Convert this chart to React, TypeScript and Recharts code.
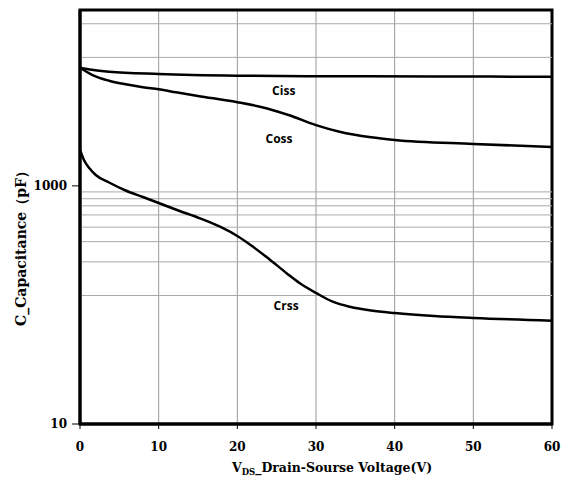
import React from 'react';
import {
  LineChart, Line, XAxis, YAxis, CartesianGrid, ReferenceLine, ReferenceArea, ReferenceDot, Label,
} from 'recharts';

// ── data (V_DS in volts, capacitance in pF) ─────────────────────────────────
const xTicks = [0, 10, 20, 30, 40, 50, 60];
const yTicks = [10, 1000];
// horizontal grid lines as drawn in the datasheet plot
const gridValues = [23000, 12000, 890, 780, 680, 570, 450, 340, 230, 120];

const cissPts: [number, number][] = [
  [0, 9820], [1.5, 9450], [3.7, 9100], [10, 8700], [20, 8420], [30, 8340], [45, 8290], [60, 8260],
];
const cossPts: [number, number][] = [
  [0, 9820], [1.6, 8530], [3.7, 7640], [5.8, 7130], [8, 6730], [10, 6470], [12.2, 6110],
  [15, 5690], [20, 5040], [23, 4600], [26.5, 3940], [30, 3240], [33, 2850], [37, 2560],
  [40, 2430], [50, 2250], [60, 2120],
];
const crssPts: [number, number][] = [
  [0, 2000], [0.5, 1650], [1.2, 1405], [2, 1234], [3.7, 1067], [5.8, 914], [8, 806], [10, 718],
  [12.5, 621], [15.25, 534], [17.8, 454], [20.1, 376], [22, 308], [24.1, 241], [26.3, 184],
  [27.95, 152], [30.1, 125], [32.2, 106], [34.3, 96.6], [37, 89.8], [40, 85.5], [45, 80.7],
  [50, 77.7], [60, 73.8],
];
const curveLabels: { name: string; v: number; c: number }[] = [
  { name: 'Ciss', v: 25.9, c: 6300 },
  { name: 'Coss', v: 25.3, c: 2480 },
  { name: 'Crss', v: 26.2, c: 98 },
];

const Y_DOMAIN: [number, number] = [10, 30000];
const SERIF = '"DejaVu Serif", serif';
const TICK = { fill: '#000', fontSize: 12, fontWeight: 700, fontFamily: SERIF };

const toRows = (pts: [number, number][]) => pts.map(([v, c]) => ({ v, c }));

function XTitle(p: any) {
  const vb = p.viewBox;
  return (
    <text x={vb.x + vb.width / 2 + 16} y={vb.y + 48} textAnchor="middle" fontFamily={SERIF} fontWeight={700} fontSize={12.5} fill="#000">
      <tspan>V</tspan>
      <tspan fontSize={8.5} dy={3}>DS</tspan>
      <tspan dy={-3}>_Drain-Sourse Voltage(V)</tspan>
    </text>
  );
}

function YTitle(p: any) {
  const vb = p.viewBox;
  const x = 26;
  const y = vb.y + vb.height / 2 + 28;
  return (
    <text x={x} y={y} transform={`rotate(-90 ${x} ${y})`} textAnchor="middle" fontFamily={SERIF} fontWeight={700} fontSize={14} fill="#000">
      C_Capacitance（pF）
    </text>
  );
}

export default function App() {
  return (
    <div style={{ position: 'absolute', left: 0, top: 0, width: 566, height: 486, background: '#fff' }}>
      <LineChart width={566} height={486} margin={{ top: 10, right: 14, bottom: 0, left: 0 }}>
        <CartesianGrid stroke="#999" vertical horizontal={false} />
        <XAxis type="number" dataKey="v" domain={[0, 60]} ticks={xTicks} allowDuplicatedCategory={false}
          height={62} tick={TICK} tickSize={5} tickMargin={13}
          axisLine={{ stroke: '#000', strokeWidth: 3 }} tickLine={{ stroke: '#000' }}>
          <Label content={XTitle} />
        </XAxis>
        <YAxis type="number" scale="log" domain={Y_DOMAIN} ticks={yTicks} allowDataOverflow
          width={80} tick={TICK} tickSize={8} tickMargin={5}
          axisLine={{ stroke: '#000', strokeWidth: 3 }} tickLine={{ stroke: '#000' }}>
          <Label content={YTitle} />
        </YAxis>
        {gridValues.map((g) => (
          <ReferenceLine key={g} y={g} stroke="#aaa" strokeWidth={1} />
        ))}
        <ReferenceArea x1={0} x2={60} y1={Y_DOMAIN[0]} y2={Y_DOMAIN[1]} fill="none" stroke="#000" strokeWidth={3} fillOpacity={0} />
        <Line data={toRows(cissPts)} dataKey="c" type="monotone" stroke="#000" strokeWidth={2.5} dot={false} isAnimationActive={false} />
        <Line data={toRows(cossPts)} dataKey="c" type="monotone" stroke="#000" strokeWidth={2.5} dot={false} isAnimationActive={false} />
        <Line data={toRows(crssPts)} dataKey="c" type="monotone" stroke="#000" strokeWidth={2.5} dot={false} isAnimationActive={false} />
        {curveLabels.map((l) => (
          <ReferenceDot key={l.name} x={l.v} y={l.c} r={0} fill="none" stroke="none"
            label={{ value: l.name, position: 'center', fill: '#000', fontSize: 12, fontWeight: 700, fontFamily: '"Open Sans", sans-serif' }} />
        ))}
      </LineChart>
    </div>
  );
}
